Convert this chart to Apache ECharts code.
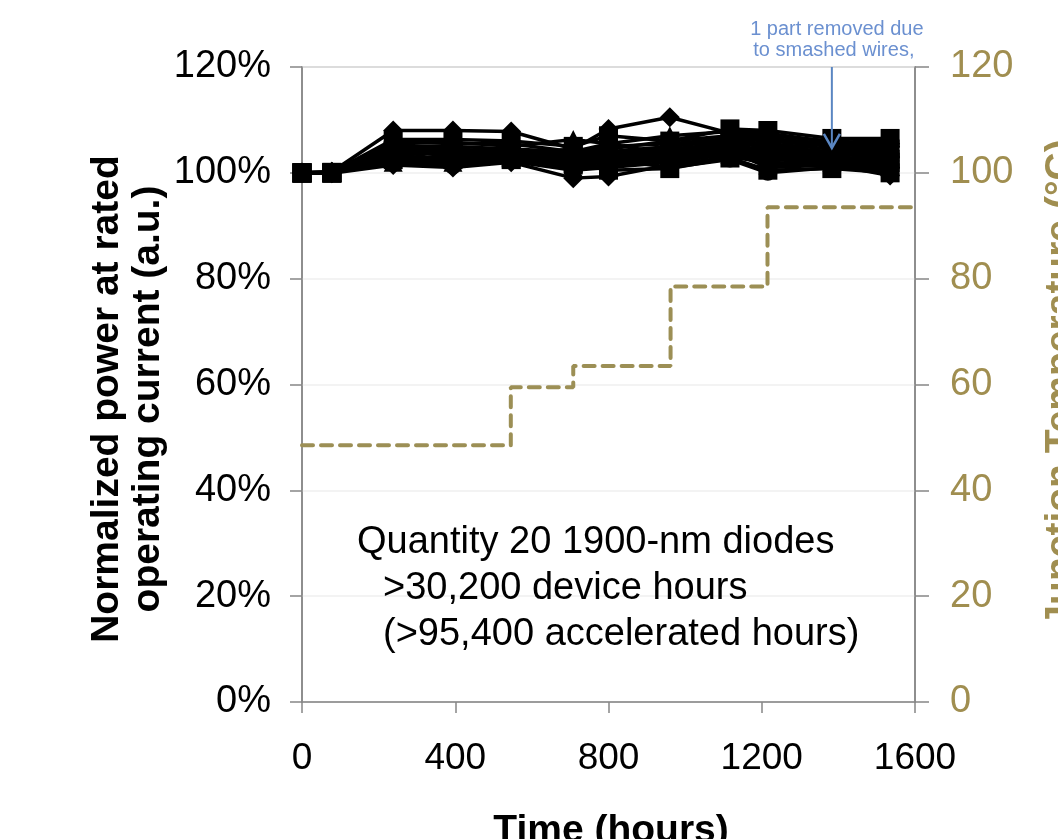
<!DOCTYPE html>
<html>
<head>
<meta charset="utf-8">
<script src="https://cdn.jsdelivr.net/npm/echarts@6/dist/echarts.min.js"></script>
<style>
html,body{margin:0;padding:0;background:#ffffff;}
#chart{width:1058px;height:839px;}
</style>
</head>
<body>
<div id="chart"></div>
<script>
// ---- data ----
const hours = [0, 78, 238, 394, 546, 708, 800, 960, 1117, 1216, 1383, 1535];

const d01 = [100, 100.2, 108.0, 108.0, 107.8, 104.5, 108.3, 110.5, 107.5, 107.0, 106.0, 105.5];
const d02 = [100, 100.1, 106.3, 106.3, 106.0, 105.0, 107.0, 106.0, 108.3, 108.0, 106.5, 106.5];
const d03 = [100, 100.0, 105.5, 105.8, 105.0, 106.3, 105.5, 107.0, 107.8, 107.5, 105.8, 106.0];
const d04 = [100, 100.0, 105.0, 105.0, 104.5, 104.0, 104.5, 106.0, 107.0, 106.5, 105.5, 105.5];
const d05 = [100, 100.2, 104.5, 104.5, 104.0, 103.5, 105.0, 105.5, 106.5, 106.0, 105.0, 105.0];
const d06 = [100, 100.0, 104.0, 104.0, 104.2, 103.0, 104.0, 105.0, 106.0, 105.5, 104.5, 104.5];
const d07 = [100, 100.0, 103.5, 103.8, 103.5, 104.5, 103.5, 104.5, 105.5, 105.0, 104.0, 104.0];
const d08 = [100, 99.9, 103.0, 103.0, 103.2, 102.5, 103.0, 104.0, 105.0, 104.5, 103.8, 103.5];
const d09 = [100, 100.0, 102.5, 102.8, 103.0, 102.0, 102.5, 103.5, 104.8, 104.0, 103.5, 103.0];
const d10 = [100, 100.0, 102.5, 102.5, 102.5, 101.5, 102.0, 103.0, 104.5, 103.5, 103.0, 102.5];
const d11 = [100, 100.0, 102.0, 102.0, 102.5, 101.0, 101.5, 102.5, 104.0, 103.0, 102.5, 102.0];
const d12 = [100, 100.0, 102.0, 101.5, 102.2, 100.5, 101.0, 102.0, 103.5, 102.5, 102.0, 101.5];
const d13 = [100, 99.9, 101.5, 101.0, 102.0, 99.0, 99.3, 101.5, 103.0, 102.0, 101.5, 101.0];
const d14 = [100, 100.0, 103.0, 104.5, 103.5, 103.5, 104.0, 104.5, 105.0, 103.0, 102.5, 102.0];
const d15 = [100, 100.1, 104.5, 103.0, 104.0, 102.8, 103.5, 102.5, 103.5, 101.5, 102.0, 101.5];
const d16 = [100, 100.0, 105.0, 101.2, 103.5, 102.0, 102.5, 101.0, 102.5, 100.0, 101.0, 100.5];
const d17 = [100, 100.0, 103.8, 104.2, 103.0, 103.2, 102.5, 103.5, 104.2, 101.0, 101.5, 99.5];
const d18 = [100, 100.0, 104.2, 103.5, 102.8, 101.8, 100.5, 100.8, 102.8, 100.5, 100.8, 100.0];
const d19 = [100, 100.0, 106.0, 105.5, 105.5, 104.0, 105.5, 103.5, 106.5, 104.5, 105.7, null];
const d20 = [100, 100.0, 102.8, 102.2, 103.8, 102.3, 103.2, 104.2, 103.2, 102.8, 104.2, 104.0];

const tempHours  = [0, 545, 708, 962, 1215, 1600];
const tempValues = [48.5, 59.5, 63.5, 78.5, 93.5, 93.5];

const xTickLabels = ['0', '400', '800', '1200', '1600'];
const leftTickLabels = ['0%', '20%', '40%', '60%', '80%', '100%', '120%'];
const rightTickLabels = ['0', '20', '40', '60', '80', '100', '120'];

const noteText = ['Quantity 20 1900-nm diodes', '>30,200 device hours', '(>95,400 accelerated hours)'];
const annotationText = ['1 part removed due', 'to smashed wires,'];
const annotationHour = 1383;
const annotationTipValue = 104.7;

// ---- chart ----
const FONT = '"Liberation Sans", Arial, sans-serif';
const AXIS_GRAY = '#878787';
const OLIVE = '#9C8F55';
const OLIVE_TEXT = '#A08E50';

const powerData = [d01,d02,d03,d04,d05,d06,d07,d08,d09,d10,d11,d12,d13,d14,d15,d16,d17,d18,d19,d20];
const symbols = ['diamond', 'rect', 'triangle', 'circle'];
const symbolSizes = { diamond: 20, rect: 19, triangle: 19, circle: 16 };

const seriesList = powerData.map(function (vals, i) {
  const sym = symbols[i % symbols.length];
  return {
    type: 'line',
    xAxisIndex: 0,
    yAxisIndex: 0,
    data: hours.map(function (h, j) { return [h, vals[j]]; }).filter(function (p) { return p[1] != null; }),
    symbol: sym,
    symbolSize: symbolSizes[sym],
    showSymbol: true,
    lineStyle: { color: '#000', width: 3.5 },
    itemStyle: { color: '#000' },
    z: 3,
    animation: false
  };
});

seriesList.push({
  type: 'line',
  xAxisIndex: 0,
  yAxisIndex: 1,
  step: 'end',
  data: tempHours.map(function (h, j) { return [h, tempValues[j]]; }),
  symbol: 'none',
  lineStyle: { color: OLIVE, width: 4, type: [11, 8], cap: 'round' },
  z: 2,
  animation: false
});

const chart = echarts.init(document.getElementById('chart'), null, { renderer: 'canvas' });

const baseGraphic = [
  {
    type: 'text', x: 128, y: 399, rotation: Math.PI / 2,
    style: { text: 'Normalized power at rated\noperating current (a.u.)', font: 'bold 39px ' + FONT,
      fill: '#000', align: 'center', verticalAlign: 'middle', lineHeight: 41 }
  },
  {
    type: 'text', x: 1061, y: 383, rotation: Math.PI / 2,
    style: { text: 'Junction Temperature (°C)', font: 'bold 39px ' + FONT,
      fill: OLIVE_TEXT, align: 'center', verticalAlign: 'middle' }
  },
  {
    type: 'text', x: 611, y: 831,
    style: { text: 'Time (hours)', font: 'bold 39px ' + FONT,
      fill: '#000', align: 'center', verticalAlign: 'middle' }
  },
  {
    type: 'text', x: 357, y: 543,
    style: { text: noteText[0], font: '38px ' + FONT, fill: '#000', align: 'left', verticalAlign: 'middle' }
  },
  {
    type: 'text', x: 383, y: 589,
    style: { text: noteText[1], font: '38px ' + FONT, fill: '#000', align: 'left', verticalAlign: 'middle' }
  },
  {
    type: 'text', x: 383, y: 635,
    style: { text: noteText[2], font: '38px ' + FONT, fill: '#000', align: 'left', verticalAlign: 'middle' }
  }
];

chart.setOption({
  animation: false,
  backgroundColor: '#ffffff',
  grid: {
    left: 302, right: 143, top: 67, bottom: 137,
    containLabel: false, outerBoundsMode: 'none',
    show: true, borderColor: AXIS_GRAY, borderWidth: 1.5, backgroundColor: 'transparent'
  },
  xAxis: {
    type: 'value', min: 0, max: 1600, interval: 400,
    axisLine: { show: true, onZero: false, lineStyle: { color: AXIS_GRAY, width: 1.5 } },
    axisTick: { show: true, inside: false, length: 11, lineStyle: { color: AXIS_GRAY, width: 1.5 } },
    axisLabel: { fontSize: 37, fontFamily: FONT, color: '#000', margin: 38,
      formatter: function (v) { return xTickLabels[Math.round(v / 400)]; } },
    splitLine: { show: false }
  },
  yAxis: [
    {
      type: 'value', min: 0, max: 120, interval: 20, position: 'left',
      axisLine: { show: true, onZero: false, lineStyle: { color: AXIS_GRAY, width: 1.5 } },
      axisTick: { show: true, inside: false, length: 12, lineStyle: { color: AXIS_GRAY, width: 1.5 } },
      axisLabel: { fontSize: 38, fontFamily: FONT, color: '#000', margin: 31,
        formatter: function (v) { return leftTickLabels[Math.round(v / 20)]; } },
      splitLine: { show: true, lineStyle: { color: '#efefef', width: 1.5 } }
    },
    {
      type: 'value', min: 0, max: 120, interval: 20, position: 'right',
      axisLine: { show: true, onZero: false, lineStyle: { color: AXIS_GRAY, width: 1.5 } },
      axisTick: { show: true, inside: false, length: 14, lineStyle: { color: AXIS_GRAY, width: 1.5 } },
      axisLabel: { fontSize: 38, fontFamily: FONT, color: OLIVE_TEXT, margin: 35,
        formatter: function (v) { return rightTickLabels[Math.round(v / 20)]; } },
      splitLine: { show: false }
    }
  ],
  series: seriesList,
  graphic: baseGraphic
});

// annotation arrow anchored at data coordinates
const tipPx = chart.convertToPixel({ xAxisIndex: 0, yAxisIndex: 0 }, [annotationHour, annotationTipValue]);
const topPx = chart.convertToPixel({ xAxisIndex: 0, yAxisIndex: 0 }, [annotationHour, 120]);
const ARROW = '#5A86C2';
const annGraphic = baseGraphic.concat([
  {
    type: 'line', shape: { x1: topPx[0], y1: topPx[1], x2: tipPx[0], y2: tipPx[1] },
    style: { stroke: ARROW, lineWidth: 2 }, z: 10
  },
  {
    type: 'polyline', shape: { points: [[tipPx[0] - 8, tipPx[1] - 14], [tipPx[0], tipPx[1]], [tipPx[0] + 8, tipPx[1] - 14]] },
    style: { stroke: ARROW, lineWidth: 2.5, fill: null }, z: 10
  },
  {
    type: 'text', x: topPx[0] + 5, y: topPx[1] - 38,
    style: { text: annotationText[0], font: '20px ' + FONT, fill: '#6B90D0', align: 'center', verticalAlign: 'middle' }, z: 10
  },
  {
    type: 'text', x: topPx[0] + 2, y: topPx[1] - 17,
    style: { text: annotationText[1], font: '20px ' + FONT, fill: '#6B90D0', align: 'center', verticalAlign: 'middle' }, z: 10
  }
]);
chart.setOption({ graphic: annGraphic }, { replaceMerge: ['graphic'] });
</script>
</body>
</html>
